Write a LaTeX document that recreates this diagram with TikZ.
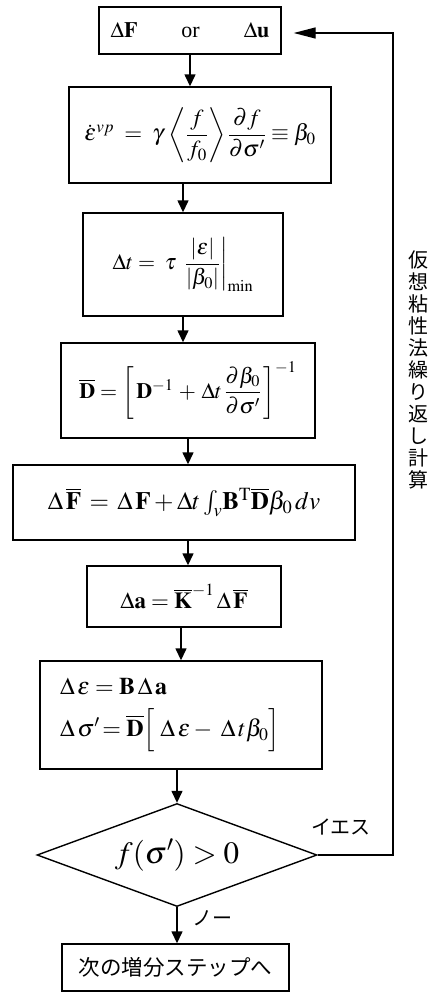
\documentclass[tikz,border=0pt]{standalone}
\usepackage{amsmath}
\usepackage{mathptmx}
\usepackage[no-math]{fontspec}
\setmainfont{Liberation Serif}
\newfontfamily\jp{Noto Sans CJK JP}
\usetikzlibrary{arrows.meta,shapes.geometric}
\tikzset{
  box/.style={draw, line width=1.4pt, inner sep=0pt, font=\fontsize{22}{26}\selectfont},
  arr/.style={line width=1.4pt, -{Triangle[length=12pt,width=11pt]}},
  backarr/.style={line width=1.4pt, -{Triangle[length=22pt,width=11pt]}},
  jplabel/.style={font=\jp\fontsize{20}{22}\selectfont, inner sep=0pt},
}
\begin{document}
\begin{tikzpicture}[x=1pt,y=-1pt]
\useasboundingbox (0,0) rectangle (435,993);
\node[box, minimum width=182pt, minimum height=47pt] (b1) at (190,30.5)
  {$\boldsymbol{\Delta}\mathbf{F}$\qquad or\qquad $\boldsymbol{\Delta}\mathbf{u}$};
\node[box, minimum width=262pt, minimum height=96pt, font=\fontsize{23}{27}\selectfont] (b2) at (200,135)
  {$\dot{\varepsilon}^{vp} \;=\; \gamma\, \left\langle \dfrac{f}{f_0} \right\rangle \dfrac{\partial f}{\partial\sigma'} \equiv \beta_0$};
\node[box, minimum width=200pt, minimum height=103pt] (b3) at (183,264.5)
  {$\Delta t = \;\tau\; \left.\dfrac{|\varepsilon|}{|\beta_0|}\right|_{\mathrm{min}}$};
\node[box, minimum width=254pt, minimum height=95pt] (b4) at (188,390.5)
  {$\overline{\mathbf{D}} = \left[\,\mathbf{D}^{-1} \,+\, \Delta t\, \dfrac{\partial\beta_0}{\partial\sigma'}\,\right]^{-1}$};
\node[box, minimum width=342pt, minimum height=75pt, font=\fontsize{25}{29}\selectfont] (b5) at (184,502.5)
  {$\Delta\,\overline{\mathbf{F}} \,=\, \Delta\,\mathbf{F} + \Delta t \int_{v}\!\mathbf{B}^{\mathrm{T}}\overline{\mathbf{D}}\beta_0\, dv$};
\node[box, minimum width=194pt, minimum height=61pt, font=\fontsize{23}{27}\selectfont] (b6) at (184,596.5)
  {$\Delta\mathbf{a} = \overline{\mathbf{K}}^{-1}\,\Delta\,\overline{\mathbf{F}}$};
\node[box, minimum width=282pt, minimum height=108pt, inner xsep=20pt, text width=242pt, align=left, font=\fontsize{24}{28}\selectfont] (b7) at (181,715)
  {$\Delta\,\varepsilon = \mathbf{B}\,\Delta\,\mathbf{a}$\\[13pt]
   $\Delta\,\sigma' \!= \overline{\mathbf{D}}\Bigl[\;\Delta\,\varepsilon - \;\Delta\, t\beta_0\Bigr]$};
\node[draw, line width=1.4pt, diamond, shape aspect=2.72, inner sep=0pt, minimum width=280pt, minimum height=103pt, font=\fontsize{31}{36}\selectfont] (dia) at (177,855)
  {$f(\sigma') > 0$};
\node[box, minimum width=227pt, minimum height=47pt, font=\jp\fontsize{21.5}{24}\selectfont] (b8) at (175.5,967.5)
  {次の増分ステップへ};
% arrows
\draw[arr] (b1.south) -- (b1.south |- b2.north);
\draw[arr] (b3.north |- b2.south) -- (b3.north);
\draw[arr] (b3.south) -- (b3.south |- b4.north);
\draw[arr] (b4.south) -- (b4.south |- b5.north);
\draw[arr] (b4.south |- b5.south) -- (b4.south |- b6.north);
\draw[arr] (b7.north |- b6.south) -- (b7.north);
\draw[arr] (b7.south -| dia.north) -- (dia.north);
\draw[arr] (dia.south) -- (dia.south |- b8.north);
% feedback loop
\coordinate (fb) at (393,33);
\draw[backarr, shorten >=12pt] (dia.east) -| (fb) -- (b1.east |- fb);
% labels
\node[jplabel] (yes) at (341,827) {イエス};
\node[jplabel] (no) at (212,918) {ノー};
\node[jplabel, align=center] (vt) at (418,370)
  {仮\\想\\粘\\性\\法\\繰\\り\\返\\し\\計\\算};
\end{tikzpicture}
\end{document}
